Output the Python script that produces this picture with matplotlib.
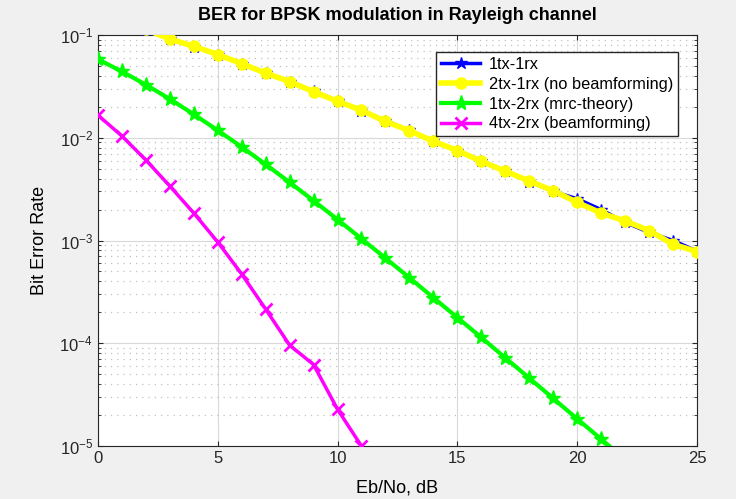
import numpy as np
import matplotlib
matplotlib.use("Agg")
import matplotlib.pyplot as plt
from matplotlib.ticker import LogLocator, NullFormatter

plt.rcParams['font.family'] = ['Liberation Sans', 'DejaVu Sans']

# Eb/No axis (dB)
ebno_db = np.arange(0, 26)

# 1tx-1rx
ber_1tx1rx = [0.146, 0.127, 0.112, 0.0919, 0.0771, 0.0640, 0.0527, 0.0430,
              0.0350, 0.0284, 0.0229, 0.0184, 0.0147, 0.0118, 0.00935, 0.00745,
              0.00600, 0.00470, 0.00375, 0.00300, 0.00255, 0.00200, 0.00150,
              0.00120, 0.00100, 0.00079]
# 2tx-1rx (no beamforming)
ber_2tx1rx = [0.146, 0.126, 0.113, 0.0915, 0.0775, 0.0645, 0.0525, 0.0425,
              0.0352, 0.0280, 0.0226, 0.0185, 0.0144, 0.0117, 0.00925, 0.00750,
              0.00590, 0.00472, 0.00380, 0.00305, 0.00235, 0.00185, 0.00155,
              0.00125, 0.00092, 0.00078]
# 1tx-2rx (mrc-theory)
ebno_mrc = np.arange(0, 23)
ber_mrc = [0.0580, 0.0441, 0.0328, 0.0238, 0.0169, 0.0118, 0.00813, 0.00551,
           0.00368, 0.00244, 0.00160, 0.00104, 0.000674, 0.000434, 0.000278,
           0.000178, 0.000114, 7.22e-5, 4.59e-5, 2.91e-5, 1.84e-5, 1.17e-5,
           7.4e-6]
# 4tx-2rx (beamforming)
ebno_bf = np.arange(0, 12)
ber_bf = [0.0166, 0.0104, 0.00607, 0.00339, 0.00185, 0.000967, 0.000472,
          0.000215, 9.6e-5, 6.2e-5, 2.28e-5, 1.0e-5]

fig = plt.figure(figsize=(7.36, 4.99), dpi=100, facecolor='#f0f0f0')
ax = fig.add_axes([0.133, 0.106, 0.814, 0.824])
ax.set_facecolor('white')

ax.semilogy(ebno_db, ber_1tx1rx, color='#0000ff', lw=2.5, marker='*', ms=9,
            label='1tx-1rx', zorder=3)
ax.semilogy(ebno_db, ber_2tx1rx, color='#ffff00', lw=4, marker='o', ms=8,
            markeredgecolor='#ffff00', label='2tx-1rx (no beamforming)', zorder=4)
ax.semilogy(ebno_mrc, ber_mrc, color='#00ff00', lw=3, marker='*', ms=11,
            label='1tx-2rx (mrc-theory)', zorder=3)
ax.semilogy(ebno_bf, ber_bf, color='#ff00ff', lw=2.5, marker='x', ms=9, mew=2,
            label='4tx-2rx (beamforming)', zorder=3)

ax.set_xlim(0, 25)
ax.set_ylim(1e-5, 1e-1)
ax.set_xticks([0, 5, 10, 15, 20, 25])
ax.yaxis.set_minor_locator(LogLocator(base=10, subs=np.arange(2, 10), numticks=20))
ax.yaxis.set_minor_formatter(NullFormatter())

ax.grid(True, which='major', color='#d9d9d9', lw=0.8)
ax.grid(True, which='minor', axis='y', color='#c0c0c0', lw=0.9, ls=(0, (1, 4)))
ax.set_axisbelow(True)

ax.tick_params(which='both', direction='in', top=True, right=True,
               labelsize=12, colors='#262626')
ax.tick_params(which='minor', length=2)
for s in ax.spines.values():
    s.set_color('#262626')

ax.set_title('BER for BPSK modulation in Rayleigh channel', fontsize=13,
             fontweight='bold', pad=11)
ax.set_xlabel('Eb/No, dB', fontsize=13, labelpad=10)
ax.set_ylabel('Bit Error Rate', fontsize=13, labelpad=8)

leg = ax.legend(loc='upper right', bbox_to_anchor=(0.968, 0.959), fontsize=11.8,
                fancybox=False, framealpha=1, edgecolor='#262626',
                handlelength=2.4, handletextpad=0.5, borderpad=0.3,
                labelspacing=0.3, borderaxespad=0)
leg.get_frame().set_linewidth(1)

fig.savefig('out.png', dpi=100, facecolor=fig.get_facecolor())
